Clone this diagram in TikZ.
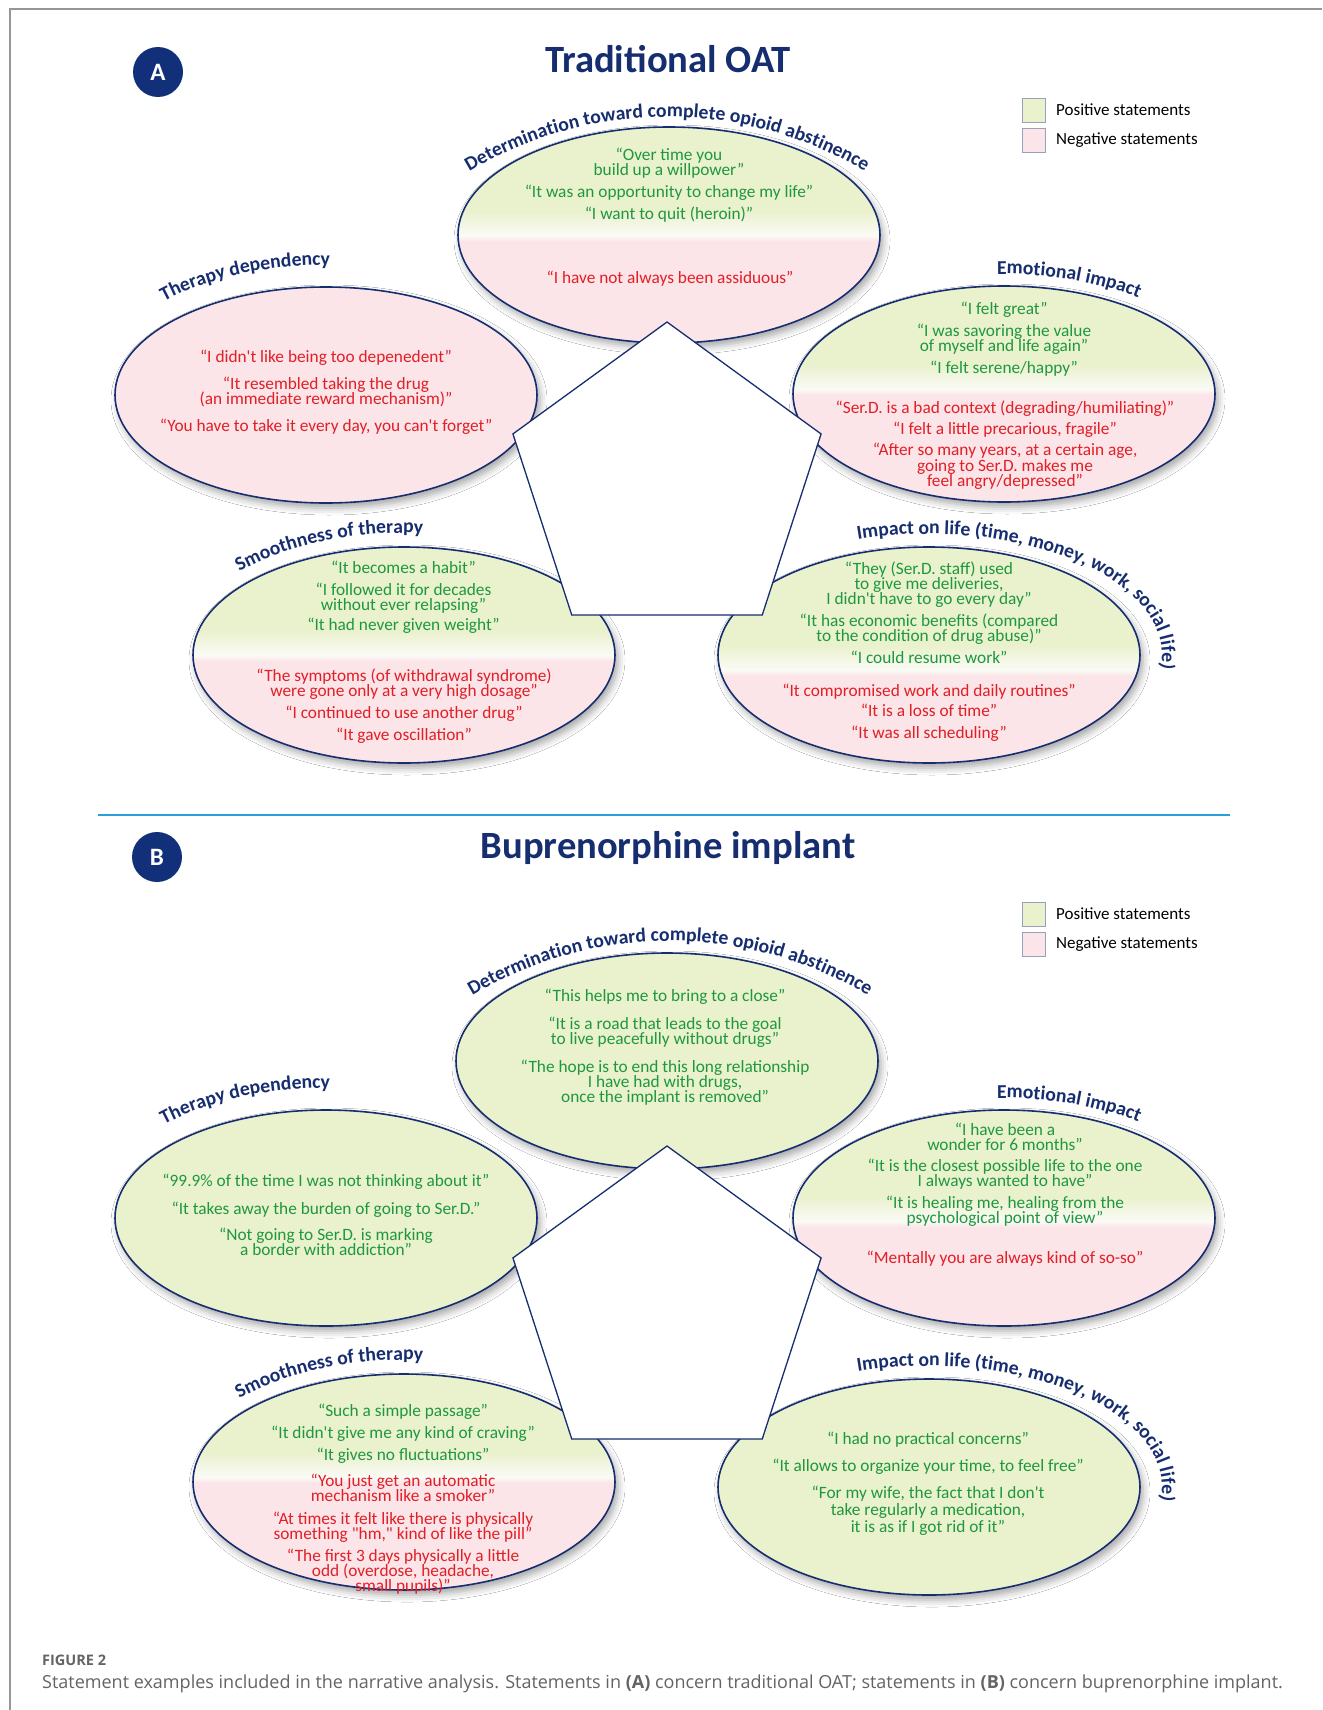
\documentclass[tikz,border=0pt]{standalone}
\usepackage{fontspec}
\newfontfamily\calfont{Carlito}
\newfontfamily\osfont{Open Sans}
\usetikzlibrary{shapes.geometric,shadows.blur,decorations.text,calc}

\definecolor{dnavy}{RGB}{22,46,112}
\definecolor{badgec}{RGB}{18,48,122}
\definecolor{qgreen}{RGB}{30,152,62}
\definecolor{qred}{RGB}{226,30,38}
\definecolor{fgreen}{RGB}{234,241,205}
\definecolor{fpink}{RGB}{251,229,232}
\definecolor{fmix}{RGB}{250,251,246}
\definecolor{sepblue}{RGB}{40,160,218}
\definecolor{capgray}{RGB}{100,100,100}
\definecolor{framec}{RGB}{150,150,150}

\pgfdeclareverticalshading{shA}{100bp}{color(0bp)=(fpink); color(48.6bp)=(fpink); color(49.9bp)=(fmix); color(55.6bp)=(fgreen); color(100bp)=(fgreen)}
\pgfdeclareverticalshading{shB}{100bp}{color(0bp)=(fpink); color(49.8bp)=(fpink); color(51.1bp)=(fmix); color(56.8bp)=(fgreen); color(100bp)=(fgreen)}
\pgfdeclareverticalshading{shC}{100bp}{color(0bp)=(fpink); color(45.2bp)=(fpink); color(46.5bp)=(fmix); color(52.2bp)=(fgreen); color(100bp)=(fgreen)}
\pgfdeclareverticalshading{shD}{100bp}{color(0bp)=(fpink); color(47.9bp)=(fpink); color(49.2bp)=(fmix); color(54.9bp)=(fgreen); color(100bp)=(fgreen)}

\newcommand\qs{\rule{0pt}{14pt}}
\newcommand\qfont{\calfont\fontsize{17.3}{15}\selectfont\lineskiplimit=-40pt\relax}
\newcommand\qfontb{\calfont\fontsize{17.3}{16.7}\selectfont\lineskiplimit=-40pt\relax}
\newcommand\lblfont{\calfont\bfseries\fontsize{19.7}{19.7}\selectfont}

\tikzset{
  ell/.style={ellipse, minimum width=422pt, minimum height=216pt, inner sep=0pt,
    draw=dnavy, line width=1.6pt,
    blur shadow={shadow xshift=3pt, shadow yshift=-5pt, shadow blur radius=7pt, shadow opacity=35}},
  quote/.style={align=center, anchor=north, inner sep=0pt, font=\qfont},
  gq/.style={quote, text=qgreen},
  rq/.style={quote, text=qred},
  pent/.style={regular polygon, regular polygon sides=5, minimum size=324pt, inner sep=0pt,
    draw=dnavy, line width=1.3pt, fill=white},
  lbl/.style={decorate, decoration={text along path, text={|\lblfont|#1}, text color=dnavy, text align={left}}},
  lblc/.style={decorate, decoration={text along path, text={|\lblfont|#1}, text color=dnavy, text align={center}}},
  legbox/.style={rectangle, minimum width=23pt, minimum height=24pt, inner sep=0pt, draw=dnavy!45, line width=0.8pt},
  legtxt/.style={anchor=base west, inner sep=0pt, font=\calfont\fontsize{17}{17}\selectfont, text=black},
  titletxt/.style={anchor=base, inner sep=0pt, font=\calfont\bfseries\fontsize{38.6}{38.6}\selectfont, text=dnavy},
  badge/.style={circle, minimum size=50pt, inner sep=0pt, fill=badgec, text=white, font=\calfont\bfseries\fontsize{25}{25}\selectfont},
}

\begin{document}
\begin{tikzpicture}[x=1pt, y=-1pt]
\useasboundingbox (0,0) rectangle (1322,1710);
\fill[white] (0,0) rectangle (1322,1710);
\draw[framec, line width=1.5pt] (10,1710) -- (10,9) -- (1322,9);

% ---------------- Panel A ----------------
\node[badge] (cA) at (158,72) {A};
\node[titletxt] (tA) at (668,72) {Traditional OAT};
\node[legbox, fill=fgreen] (lgA1) at (1033.5,110) {};
\node[legbox, fill=fpink] (lgA2) at (1033.5,140) {};
\node[legtxt] (ltA1) at (1056,115) {Positive statements};
\node[legtxt] (ltA2) at (1056,144) {Negative statements};

\node[ell, shade, shading=shA] (eAt) at (669,235) {};
\node[ell, fill=fpink] (eAl) at (326,395) {};
\node[ell, shade, shading=shB] (eAr) at (1004,394) {};
\node[ell, shade, shading=shA] (eAs) at (404,655) {};
\node[ell, shade, shading=shC] (eAi) at (929,655) {};
\node[pent] (pA) at (667,484) {};

\node[gq] (qAt1) at (669,146.3) {\qs“Over time you\\build up a willpower”\\[7pt]“It was an opportunity to change my life”\\[6.7pt]“I want to quit (heroin)”};
\node[rq] (qAt2) at (670,269.3) {\qs“I have not always been assiduous”};
\node[rq] (qAl) at (326,348.3) {\qs“I didn't like being too depenedent”\\[12pt]“It resembled taking the drug\\(an immediate reward mechanism)”\\[11.7pt]“You have to take it every day, you can't forget”};
\node[gq] (qAr1) at (1004,300) {\qs“I felt great”\\[7pt]“I was savoring the value\\of myself and life again”\\[7pt]“I felt serene/happy”};
\node[rq] (qAr2) at (1005,399.3) {\qs“Ser.D. is a bad context (degrading/humiliating)”\\[6pt]“I felt a little precarious, fragile”\\[6.4pt]“After so many years, at a certain age,\\[1pt]going to Ser.D. makes me\\feel angry/depressed”};
\node[gq] (qAs1) at (403.5,559.3) {\qs“It becomes a habit”\\[6.7pt]“I followed it for decades\\without ever relapsing”\\[5.7pt]“It had never given weight”};
\node[rq] (qAs2) at (404,667.7) {\qs“The symptoms (of withdrawal syndrome)\\were gone only at a very high dosage”\\[6.6pt]“I continued to use another drug”\\[6.7pt]“It gave oscillation”};
\node[gq] (qAi1) at (929,560) {\qs“They (Ser.D. staff) used\\to give me deliveries,\\I didn't have to go every day”\\[7.7pt]“It has economic benefits (compared\\to the condition of drug abuse)”\\[6.6pt]“I could resume work”};
\node[rq] (qAi2) at (929,682) {\qs“It compromised work and daily routines”\\[5.7pt]“It is a loss of time”\\[6.6pt]“It was all scheduling”};

\path[lblc={Determination toward complete opioid abstinence}] ($(667,502)+(128:385pt)$) arc[start angle=128, end angle=52, radius=385pt];
\path[lbl={Therapy dependency}] ($(326,395)+(134:233pt and 130pt)$) arc[start angle=134, end angle=40, x radius=233pt, y radius=130pt];
\path[lbl={Emotional impact}] ($(1004,394)+(91.8:223pt and 120pt)$) arc[start angle=91.8, end angle=-10, x radius=223pt, y radius=120pt];
\path[lbl={Smoothness of therapy}] ($(404,655)+(137:225pt and 122pt)$) arc[start angle=137, end angle=40, x radius=225pt, y radius=122pt];
\path[lbl={Impact on life (time, money, work, social life)}] ($(929,655)+(107.8:233pt and 121pt)$) arc[start angle=107.8, end angle=-45, x radius=233pt, y radius=121pt];

% separator
\draw[sepblue, line width=2pt] (98,815) -- (1230,815);

% ---------------- Panel B ----------------
\node[badge] (cB) at (157,857) {B};
\node[titletxt] (tB) at (668,858) {Buprenorphine implant};
\node[legbox, fill=fgreen] (lgB1) at (1033.5,914) {};
\node[legbox, fill=fpink] (lgB2) at (1033.5,944) {};
\node[legtxt] (ltB1) at (1056,919) {Positive statements};
\node[legtxt] (ltB2) at (1056,948) {Negative statements};

\node[ell, fill=fgreen] (eBt) at (667,1061) {};
\node[ell, fill=fgreen] (eBl) at (326,1218) {};
\node[ell, shade, shading=shD] (eBr) at (1004,1218) {};
\node[ell, shade, shading=shB] (eBs) at (404,1482) {};
\node[ell, fill=fgreen] (eBi) at (929,1487) {};
\node[pent] (pB) at (667,1308) {};

\node[gq] (qBt) at (665,987.7) {\qs“This helps me to bring to a close”\\[12.6pt]“It is a road that leads to the goal\\to live peacefully without drugs”\\[12.7pt]“The hope is to end this long relationship\\I have had with drugs,\\once the implant is removed”};
\node[gq] (qBl) at (326,1172.7) {\qs“99.9\% of the time I was not thinking about it”\\[12.3pt]“It takes away the burden of going to Ser.D.”\\[11pt]“Not going to Ser.D. is marking\\a border with addiction”};
\node[gq] (qBr1) at (1005,1121) {\qs“I have been a\\wonder for 6 months”\\[6.7pt]“It is the closest possible life to the one\\I always wanted to have”\\[6.6pt]“It is healing me, healing from the\\psychological point of view”};
\node[rq] (qBr2) at (1005,1249.3) {\qs“Mentally you are always kind of so-so”};
\node[gq] (qBs1) at (403,1402) {\qs“Such a simple passage”\\[7.3pt]“It didn't give me any kind of craving”\\[6.7pt]“It gives no fluctuations”};
\node[rq] (qBs2) at (403,1472.7) {\qs“You just get an automatic\\mechanism like a smoker”\\[7.6pt]“At times it felt like there is physically\\something "hm," kind of like the pill”\\[6.6pt]“The first 3 days physically a little\\odd (overdose, headache,\\small pupils)”};
\node[gq, font=\qfontb] (qBi) at (928,1430) {\qs“I had no practical concerns”\\[11pt]“It allows to organize your time, to feel free”\\[10pt]“For my wife, the fact that I don't\\take regularly a medication,\\it is as if I got rid of it”};

\path[lblc={Determination toward complete opioid abstinence}] ($(670,1326)+(128:385pt)$) arc[start angle=128, end angle=52, radius=385pt];
\path[lbl={Therapy dependency}] ($(326,1218)+(134:233pt and 130pt)$) arc[start angle=134, end angle=40, x radius=233pt, y radius=130pt];
\path[lbl={Emotional impact}] ($(1004,1218)+(91.8:223pt and 120pt)$) arc[start angle=91.8, end angle=-10, x radius=223pt, y radius=120pt];
\path[lbl={Smoothness of therapy}] ($(404,1482)+(137:225pt and 122pt)$) arc[start angle=137, end angle=40, x radius=225pt, y radius=122pt];
\path[lbl={Impact on life (time, money, work, social life)}] ($(929,1487)+(107.8:233pt and 121pt)$) arc[start angle=107.8, end angle=-45, x radius=233pt, y radius=121pt];

% caption
\node[anchor=base west, inner sep=0pt, font=\osfont\bfseries\fontsize{14.5}{14.5}\selectfont, text=capgray] (fig) at (42,1665) {FIGURE 2};
\node[anchor=base west, inner sep=0pt, font=\osfont\fontsize{18}{18}\selectfont, text=capgray] (cap) at (42,1688) {Statement examples included in the narrative analysis. Statements in \textbf{(A)} concern traditional OAT; statements in \textbf{(B)} concern buprenorphine implant.};
\end{tikzpicture}
\end{document}
